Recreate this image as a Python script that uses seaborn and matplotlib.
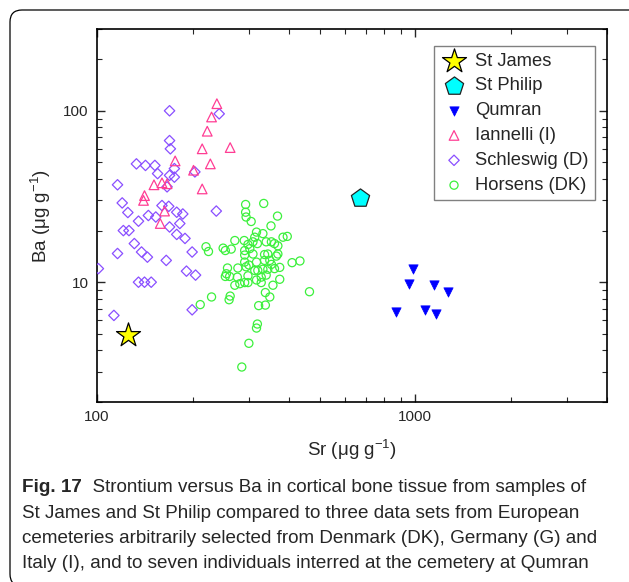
import numpy as np
import matplotlib
matplotlib.use('Agg')
import matplotlib.pyplot as plt
import seaborn as sns
from matplotlib.patches import FancyBboxPatch
from matplotlib.transforms import IdentityTransform
from matplotlib.ticker import FixedLocator, FuncFormatter, NullFormatter, LogLocator

# Sr (x) and Ba (y) values, ug/g
stjames_sr = [125]
stjames_ba = [4.9]

stphilip_sr = [670]
stphilip_ba = [31]

qumran_sr = [986, 957, 1145, 1271, 867, 1075, 1161]
qumran_ba = [11.9, 9.8, 9.6, 8.8, 6.7, 6.9, 6.5]

iannelli_sr = [238, 229, 222, 262, 214, 176, 227, 201, 151, 160, 166, 214, 141, 140, 163, 158]
iannelli_ba = [110, 92, 76, 61, 60, 51, 49, 45, 37, 38, 37.5, 35, 32, 30, 26, 22]

schleswig_sr = [169, 169, 170, 242, 133, 142, 152, 155, 175, 169,
                175, 203, 166, 116, 120, 125, 160, 168, 178, 186,
                237, 135, 145, 153, 169, 182, 121, 126, 131, 138,
                144, 116, 165, 178, 189, 199, 191, 204, 135, 141,
                148, 101, 113, 199]
schleswig_ba = [100, 67, 60, 96, 49, 48, 48, 43, 46, 42,
                41, 44, 36, 37, 29, 25.5, 28, 27.7, 25.6, 25,
                26, 22.7, 24.5, 24, 21, 22, 20, 20, 16.8, 15,
                14, 14.7, 13.4, 19, 18, 15, 11.6, 11, 10, 10,
                10, 12, 6.4, 6.9]

horsens_sr = [293, 334, 293, 294, 305, 369, 352, 317, 332, 313,
              271, 290, 298, 309, 319, 340, 353, 361, 370, 384,
              396, 220, 224, 249, 253, 264, 291, 302, 291, 309,
              336, 344, 370, 366, 291, 300, 317, 336, 349, 353,
              257, 277, 294, 313, 320, 332, 344, 361, 375, 410,
              434, 255, 253, 261, 276, 298, 317, 328, 340, 375,
              271, 281, 291, 298, 328, 357, 465, 338, 349, 229,
              262, 260, 211, 322, 338, 319, 317, 300, 285]
horsens_ba = [28.4, 28.8, 25.6, 24.0, 22.6, 24.3, 21.3, 19.6, 19.2, 18.3,
              17.5, 17.5, 16.6, 17.2, 16.8, 17.2, 17.2, 16.8, 16.3, 18.3,
              18.5, 16.1, 15.1, 15.8, 15.3, 15.6, 15.3, 15.7, 14.4, 14.6,
              14.5, 14.6, 14.6, 14.2, 13.1, 12.6, 13.1, 13.4, 13.4, 12.7,
              12.1, 12.1, 12.3, 11.7, 11.7, 11.9, 11.9, 12.0, 12.2, 13.0,
              13.3, 11.2, 10.8, 10.8, 10.7, 10.9, 10.3, 10.7, 11.0, 10.4,
              9.6, 9.8, 9.95, 9.95, 9.95, 9.6, 8.8, 8.7, 8.2, 8.2,
              8.3, 7.9, 7.4, 7.3, 7.35, 5.7, 5.4, 4.4, 3.2]

caption_lines = [
    'St James and St Philip compared to three data sets from European',
    'cemeteries arbitrarily selected from Denmark (DK), Germany (G) and',
    'Italy (I), and to seven individuals interred at the cemetery at Qumran',
]

sns.set_style('ticks')
plt.rcParams['font.family'] = ['Liberation Sans', 'DejaVu Sans']
plt.rcParams['mathtext.fontset'] = 'custom'
plt.rcParams['mathtext.rm'] = 'Liberation Sans'
plt.rcParams['mathtext.default'] = 'regular'

W, H = 629, 582
fig = plt.figure(figsize=(W / 100, H / 100), dpi=100)
fig.patch.set_facecolor('white')

# rounded frame round the figure + caption
frame = FancyBboxPatch((10, -4), 640, 576, boxstyle='round,pad=0,rounding_size=12',
                       transform=IdentityTransform(), fc='none', ec='black', lw=0.9)
fig.add_artist(frame)

ax = fig.add_axes([97 / W, 1 - 402 / H, 510 / W, 373 / H])
ax.set_xscale('log')
ax.set_yscale('log')

sns.scatterplot(x=stjames_sr, y=stjames_ba, marker='*', s=330, color='#FFFF00',
                edgecolor='black', linewidth=0.9, label='St James', ax=ax, zorder=6)
sns.scatterplot(x=stphilip_sr, y=stphilip_ba, marker='p', s=190, color='#00FFFF',
                edgecolor='#222222', linewidth=0.9, label='St Philip', ax=ax, zorder=6)
sns.scatterplot(x=qumran_sr, y=qumran_ba, marker='v', s=45, color='#0000FF',
                edgecolor='#0000FF', linewidth=0.5, label='Qumran', ax=ax, zorder=5)
sns.scatterplot(x=iannelli_sr, y=iannelli_ba, marker='^', s=48, facecolors='none',
                edgecolor='#FF3D94', linewidth=0.9, label='Iannelli (I)', ax=ax, zorder=4)
sns.scatterplot(x=schleswig_sr, y=schleswig_ba, marker='D', s=28, facecolors='none',
                edgecolor='#8A4FFF', linewidth=0.9, label='Schleswig (D)', ax=ax, zorder=3)
sns.scatterplot(x=horsens_sr, y=horsens_ba, marker='o', s=34, facecolors='none',
                edgecolor='#3CF03C', linewidth=0.9, label='Horsens (DK)', ax=ax, zorder=2)

ax.set_xlim(100, 4000)
ax.set_ylim(2, 300)

ax.xaxis.set_major_locator(FixedLocator([100, 1000]))
ax.yaxis.set_major_locator(FixedLocator([10, 100]))
for axis in (ax.xaxis, ax.yaxis):
    axis.set_major_formatter(FuncFormatter(lambda v, p: f'{v:g}'))
    axis.set_minor_locator(LogLocator(base=10, subs=np.arange(2, 10)))
    axis.set_minor_formatter(NullFormatter())

ax.tick_params(which='both', direction='in', top=True, right=True, labelsize=11, pad=6)
ax.tick_params(which='major', length=6, width=1)
ax.tick_params(which='minor', length=3.5, width=0.8)
for sp in ax.spines.values():
    sp.set_visible(True)
    sp.set_linewidth(1.2)
    sp.set_color('black')

ax.set_xlabel('Sr (μg g$^{-1}$)', fontsize=13.5)
ax.set_ylabel('Ba (μg g$^{-1}$)', fontsize=13.5)
ax.xaxis.set_label_coords(0.5, -0.095)
ax.yaxis.set_label_coords(-0.086, 0.5)

leg = ax.legend(loc='upper right', bbox_to_anchor=(0.9765, 0.954), borderaxespad=0,
                fontsize=13.2, frameon=True, fancybox=False, framealpha=1,
                edgecolor='#808080', borderpad=0.35, handlelength=1.5,
                handletextpad=0.4, labelspacing=0.43)
leg.get_frame().set_linewidth(1.0)

# caption under the chart
cap = 13.6
y0 = 492
t1 = fig.text(22 / W, 1 - y0 / H, 'Fig. 17', fontsize=cap, weight='bold', va='baseline')
ax.annotate('  Strontium versus Ba in cortical bone tissue from samples of',
            xy=(1, 0), xycoords=t1, va='bottom', ha='left', fontsize=cap,
            annotation_clip=False)
for i, line in enumerate(caption_lines):
    fig.text(22 / W, 1 - (y0 + 25.5 * (i + 1)) / H, line, fontsize=cap, va='baseline')

fig.savefig('out.png', dpi=100)
